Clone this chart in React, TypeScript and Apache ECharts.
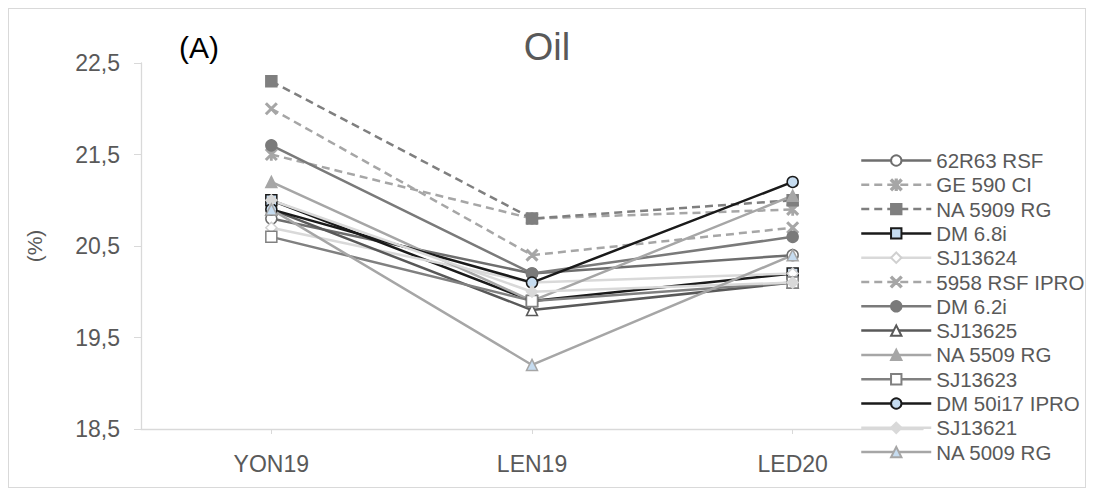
import React, { useEffect, useRef } from "react";
import * as echarts from "echarts";

const categories = ["YON19", "LEN19", "LED20"];
const yTickValues = [18.5, 19.5, 20.5, 21.5, 22.5];

const s62R63RSF = [20.8, 20.2, 20.4];
const sGE590CI = [21.5, 20.8, 20.9];
const sNA5909RG = [22.3, 20.8, 21.0];
const sDM68i = [21.0, 19.9, 20.2];
const sSJ13624 = [20.7, 20.1, 20.2];
const s5958RSFIPRO = [22.0, 20.4, 20.7];
const sDM62i = [21.6, 20.2, 20.6];
const sSJ13625 = [20.9, 19.8, 20.1];
const sNA5509RG = [21.2, 19.9, 21.05];
const sSJ13623 = [20.6, 19.9, 20.1];
const sDM50i17IPRO = [20.9, 20.1, 21.2];
const sSJ13621 = [21.0, 20.0, 20.1];
const sNA5009RG = [20.9, 19.2, 20.4];

const seriesList: [string, number[]][] = [
  ["62R63 RSF", s62R63RSF],
  ["GE 590 CI", sGE590CI],
  ["NA 5909 RG", sNA5909RG],
  ["DM 6.8i", sDM68i],
  ["SJ13624", sSJ13624],
  ["5958 RSF IPRO", s5958RSFIPRO],
  ["DM 6.2i", sDM62i],
  ["SJ13625", sSJ13625],
  ["NA 5509 RG", sNA5509RG],
  ["SJ13623", sSJ13623],
  ["DM 50i17 IPRO", sDM50i17IPRO],
  ["SJ13621", sSJ13621],
  ["NA 5009 RG", sNA5009RG],
];

const X_PATH = "path://M0,1 L1,0 L10,9 L9,10 Z M9,0 L10,1 L1,10 L0,9 Z";
const AST_PATH =
  "path://M0,1 L1,0 L10,9 L9,10 Z M9,0 L10,1 L1,10 L0,9 Z M4.4,0 L5.6,0 L5.6,10 L4.4,10 Z";

const BLUE = "#c6dcf0";
type Sty = { line: string; dashed?: boolean; symbol: string; fill: string; border: string };
const styles: Record<string, Sty> = {
  "62R63 RSF": { line: "#6e6e6e", symbol: "circle", fill: "#fff", border: "#6e6e6e" },
  "GE 590 CI": { line: "#a6a6a6", dashed: true, symbol: AST_PATH, fill: "#a6a6a6", border: "#a6a6a6" },
  "NA 5909 RG": { line: "#7f7f7f", dashed: true, symbol: "rect", fill: "#7f7f7f", border: "#7f7f7f" },
  "DM 6.8i": { line: "#1a1a1a", symbol: "rect", fill: BLUE, border: "#1a1a1a" },
  SJ13624: { line: "#d9d9d9", symbol: "diamond", fill: "#fff", border: "#d0d0d0" },
  "5958 RSF IPRO": { line: "#a6a6a6", dashed: true, symbol: X_PATH, fill: "#a6a6a6", border: "#a6a6a6" },
  "DM 6.2i": { line: "#7a7a7a", symbol: "circle", fill: "#7a7a7a", border: "#7a7a7a" },
  SJ13625: { line: "#595959", symbol: "triangle", fill: "#fff", border: "#595959" },
  "NA 5509 RG": { line: "#a6a6a6", symbol: "triangle", fill: "#a6a6a6", border: "#a6a6a6" },
  SJ13623: { line: "#808080", symbol: "rect", fill: "#fff", border: "#808080" },
  "DM 50i17 IPRO": { line: "#1a1a1a", symbol: "circle", fill: BLUE, border: "#1a1a1a" },
  SJ13621: { line: "#d9d9d9", symbol: "diamond", fill: "#d9d9d9", border: "#d9d9d9" },
  "NA 5009 RG": { line: "#a6a6a6", symbol: "triangle", fill: BLUE, border: "#a6a6a6" },
};

const FONT = "Liberation Sans, Arial, sans-serif";

export default function App() {
  const ref = useRef<HTMLDivElement>(null);
  useEffect(() => {
    if (!ref.current) return;
    const chart = echarts.init(ref.current, null, { renderer: "svg" });
    const series = seriesList.map(([name, data]) => {
      const st = styles[name];
      return {
        name,
        type: "line",
        data,
        symbol: st.symbol,
        symbolSize: 11,
        showSymbol: true,
        lineStyle: { color: st.line, width: 2.5, type: st.dashed ? [8, 5] : "solid" },
        itemStyle: { color: st.fill, borderColor: st.border, borderWidth: 1.5 },
        emphasis: { disabled: true },
      };
    });
    chart.setOption({
      animation: false,
      textStyle: { fontFamily: FONT },
      title: {
        text: "Oil",
        left: "center",
        top: 19,
        padding: 0,
        textStyle: { fontFamily: FONT, fontSize: 38, fontWeight: "normal", color: "#595959" },
      },
      graphic: [
        {
          type: "text",
          x: 190,
          y: 38,
          style: {
            text: "(A)",
            fontFamily: FONT,
            fontSize: 30,
            fill: "#000",
            textAlign: "center",
            textVerticalAlign: "middle",
          },
        },
      ],
      legend: {
        orient: "vertical",
        left: 851,
        top: 141,
        padding: 0,
        itemWidth: 70,
        itemHeight: 13,
        itemGap: 3.3,
        lineStyle: { width: 2.5 },
        data: seriesList.map((s) => s[0]),
        textStyle: { fontFamily: FONT, fontSize: 20.5, color: "#595959" },
      },
      grid: { left: 132, top: 54, width: 782, height: 366, containLabel: false },
      xAxis: {
        type: "category",
        data: categories,
        boundaryGap: true,
        axisLine: { lineStyle: { color: "#d9d9d9", width: 1.3 } },
        axisTick: { show: true, alignWithLabel: true, length: 5, lineStyle: { color: "#d9d9d9" } },
        axisLabel: { fontFamily: FONT, fontSize: 23, color: "#595959", margin: 23 },
        splitLine: { show: false },
      },
      yAxis: {
        type: "value",
        min: 18.5,
        max: 22.5,
        name: "(%)",
        nameLocation: "middle",
        nameGap: 96,
        nameTextStyle: { fontFamily: FONT, fontSize: 21, color: "#595959" },
        axisLine: { show: true, lineStyle: { color: "#d9d9d9", width: 1.3 } },
        axisTick: { show: true, length: 7, customValues: yTickValues, lineStyle: { color: "#d9d9d9" } },
        axisLabel: {
          fontFamily: FONT,
          fontSize: 23,
          color: "#595959",
          margin: 21,
          customValues: yTickValues,
          formatter: (v: number) => v.toFixed(1).replace(".", ","),
        },
        splitLine: { show: false },
      },
      series,
    });
    return () => chart.dispose();
  }, []);
  return (
    <div style={{ width: 1078, height: 480, border: "1px solid #d9d9d9", boxSizing: "border-box" }}>
      <div ref={ref} style={{ width: 1076, height: 478 }} />
    </div>
  );
}
